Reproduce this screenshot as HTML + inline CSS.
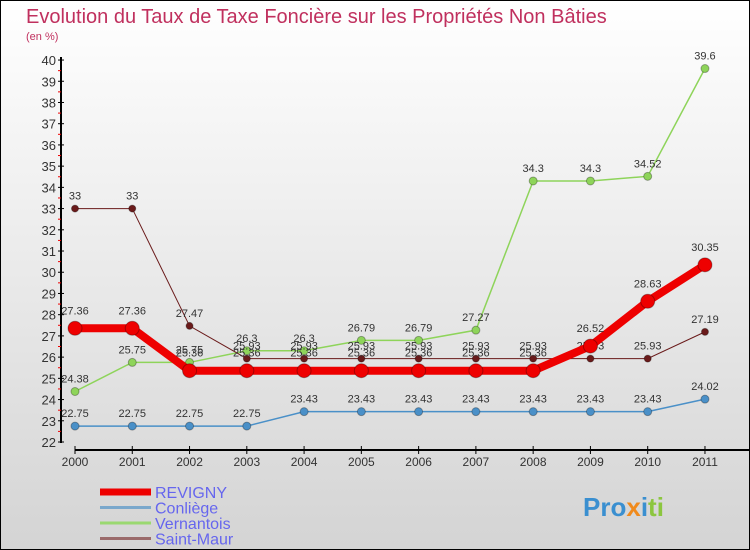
<!DOCTYPE html>
<html><head><meta charset="utf-8"><style>
body{margin:0}
#c{width:750px;height:550px;position:relative;overflow:hidden;font-family:"Liberation Sans",sans-serif}
</style></head><body>
<div id="c">
<svg id="s" width="750" height="550" xmlns="http://www.w3.org/2000/svg">
<defs><linearGradient id="bg" x1="0" y1="0" x2="0" y2="1"><stop offset="0" stop-color="#ffffff"/><stop offset="1" stop-color="#d4d4d4"/></linearGradient></defs>
<rect x="0.5" y="0.5" width="749" height="549" fill="url(#bg)" stroke="#000"/>
<text x="26" y="23" font-size="20" font-weight="normal" fill="#c0305e">Evolution du Taux de Taxe Foncière sur les Propriétés Non Bâties</text>
<text x="26" y="40" font-size="11" fill="#c0305e">(en %)</text>
<g id="axes"></g><g id="series"></g><g id="legend"></g>
<text x="583" y="516" font-size="26" font-weight="bold" fill="#3a8fd0">Pro<tspan fill="#f08a1c">x</tspan><tspan fill="#3a8fd0">i</tspan><tspan fill="#8cc63f">ti</tspan></text>
</svg></div>
<script>
const years=["2000","2001","2002","2003","2004","2005","2006","2007","2008","2009","2010","2011"];
const yTicks=[22,23,24,25,26,27,28,29,30,31,32,33,34,35,36,37,38,39,40];
const revigny=[27.36,27.36,25.36,25.36,25.36,25.36,25.36,25.36,25.36,26.52,28.63,30.35];
const conliege=[22.75,22.75,22.75,22.75,23.43,23.43,23.43,23.43,23.43,23.43,23.43,24.02];
const vernantois=[24.38,25.75,25.75,26.3,26.3,26.79,26.79,27.27,34.3,34.3,34.52,39.6];
const saintMaur=[33,33,27.47,25.93,25.93,25.93,25.93,25.93,25.93,25.93,25.93,27.19];
const NS="http://www.w3.org/2000/svg";
const X=i=>75+i*57.27, Y=v=>442-(v-22)*21.22;
function mk(t,a,p){const e=document.createElementNS(NS,t);for(const k in a)e.setAttribute(k,a[k]);p.appendChild(e);return e;}
const ax=document.getElementById('axes');
let e=mk('line',{x1:61,y1:57,x2:61,y2:443,stroke:'#000','stroke-width':2},ax);


e=mk('line',{x1:75,y1:450,x2:750,y2:450,stroke:'#000','stroke-width':2},ax);


yTicks.forEach(v=>{mk('line',{x1:58,y1:Y(v),x2:64,y2:Y(v),stroke:'#000'},ax);
 if(v<40)mk('line',{x1:58,y1:Y(v+0.5),x2:61,y2:Y(v+0.5),stroke:'#e00'},ax);
 const t=mk('text',{x:56,y:Y(v)+5,'font-size':13,'text-anchor':'end',fill:'#333'},ax);t.textContent=v;
 
 });
years.forEach((y,i)=>{mk('line',{x1:X(i),y1:446,x2:X(i),y2:454,stroke:'#000'},ax);
 const t=mk('text',{x:X(i),y:466,'font-size':12,'text-anchor':'middle',fill:'#333'},ax);t.textContent=y;
 
 });
const sg=document.getElementById('series');
function draw(data,col,w,r,name,dy){
 const g=mk('g',{},sg);
 
 
 mk('polyline',{points:data.map((v,i)=>X(i)+','+Y(v)).join(' '),fill:'none',stroke:col,'stroke-width':w},g);
 data.forEach((v,i)=>{const c=mk('circle',{cx:X(i),cy:Y(v),r:r,fill:col,stroke:'rgba(0,0,0,0.3)'},g);
  
  
  const t=mk('text',{x:X(i),y:Y(v)-dy,'font-size':11,'text-anchor':'middle',fill:'#333'},g);t.textContent=v;
  
  });
}
draw(conliege,'#4a90c8',1.5,4,'conliege',9);
draw(vernantois,'#8ed45a',1.5,4,'vernantois',9);
draw(saintMaur,'#6a1a1a',1,3.5,'saint-maur',9);
draw(revigny,'#ee0000',8,7,'revigny',14);
const lg=document.getElementById('legend');
[['REVIGNY','#ee0000',7],['Conliège','#7aa8cc',3],['Vernantois','#9ad870',3],['Saint-Maur','#9a6a6a',3]].forEach((d,i)=>{
 const y=492+i*15.5;
 const g=mk('g',{},lg);
 
 
 mk('line',{x1:100,y1:y,x2:151,y2:y,stroke:d[1],'stroke-width':d[2]},g);
 const t=mk('text',{x:155,y:y+6,'font-size':16,fill:'#6666ee'},g);t.textContent=d[0];
});
</script></body></html>
